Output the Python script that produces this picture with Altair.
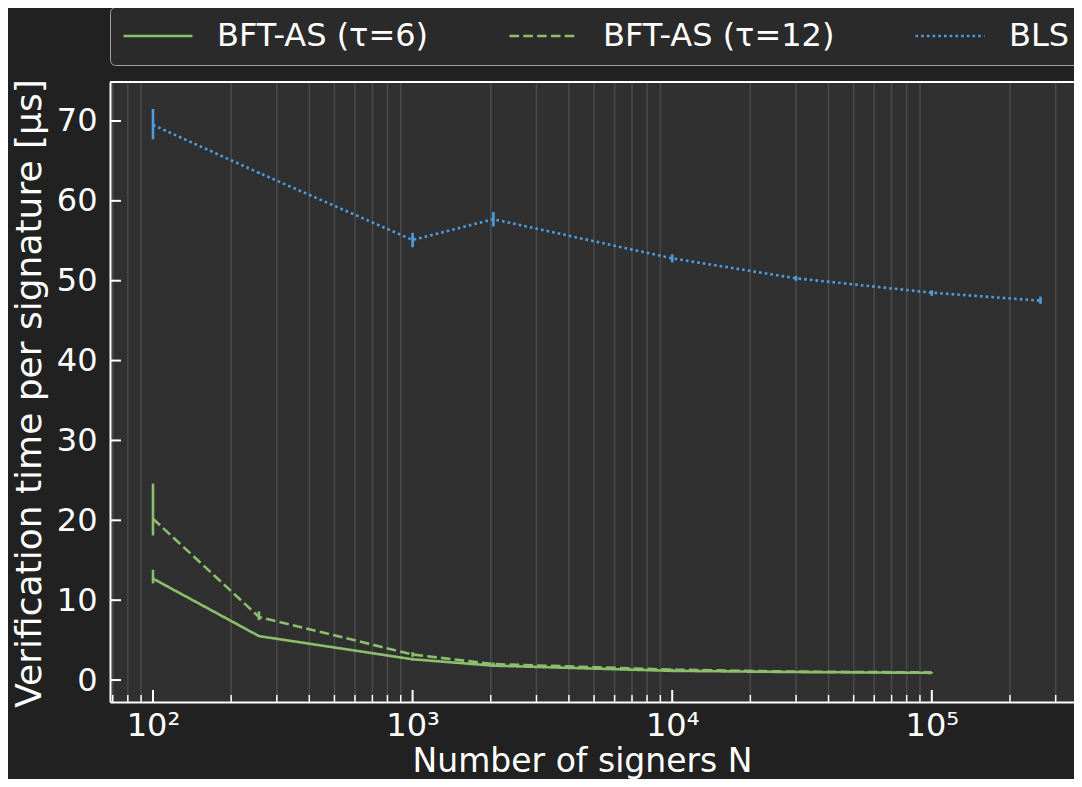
import altair as alt
import pandas as pd

# ---------------- data ----------------
series_names = ["BFT-AS (τ=6)", "BFT-AS (τ=12)", "BLS"]

n_bft = [100, 256, 1000, 2048, 10000, 30000, 100000]
tau6_mean = [12.7, 5.5, 2.6, 1.8, 1.15, 1.0, 0.9]
tau6_lo = [12.1, 5.4, 2.45, 1.7, 1.1, 0.95, 0.85]
tau6_hi = [13.8, 5.6, 2.75, 1.9, 1.2, 1.05, 0.95]

tau12_mean = [20.2, 7.9, 3.2, 2.0, 1.3, 1.05, 0.95]
tau12_lo = [18.1, 7.5, 2.9, 1.8, 1.2, 1.0, 0.9]
tau12_hi = [24.6, 8.6, 3.5, 2.2, 1.4, 1.1, 1.0]

n_bls = [100, 256, 1000, 2048, 10000, 30000, 100000, 262144]
bls_mean = [69.5, 63.5, 55.1, 57.7, 52.8, 50.3, 48.5, 47.5]
bls_lo = [67.7, 63.4, 54.2, 56.8, 52.3, 50.0, 48.1, 47.1]
bls_hi = [71.5, 63.6, 56.0, 58.6, 53.3, 50.6, 48.8, 48.0]

x_major = [100, 1000, 10000, 100000]
x_major_labels = ["10²", "10³", "10⁴", "10⁵"]
x_minor = [70, 80, 90,
           200, 300, 400, 500, 600, 700, 800, 900,
           2000, 3000, 4000, 5000, 6000, 7000, 8000, 9000,
           20000, 30000, 40000, 50000, 60000, 70000, 80000, 90000,
           200000, 300000]
y_major = [0, 10, 20, 30, 40, 50, 60, 70]

x_title = "Number of signers N"
y_title = "Verification time per signature [μs]"

# ---------------- tables ----------------
rows = []
for name, xs, m, lo, hi in [
    (series_names[0], n_bft, tau6_mean, tau6_lo, tau6_hi),
    (series_names[1], n_bft, tau12_mean, tau12_lo, tau12_hi),
    (series_names[2], n_bls, bls_mean, bls_lo, bls_hi),
]:
    for x, a, b, c in zip(xs, m, lo, hi):
        rows.append({"series": name, "N": x, "mean": a, "lo": b, "hi": c})
df = pd.DataFrame(rows)

major_df = pd.DataFrame({"v": x_major})
minor_df = pd.DataFrame({"v": x_minor})
ytick_df = pd.DataFrame({"v": y_major})

# ---------------- style ----------------
FONT = "DejaVu Sans"
GREEN = "#8cbf6c"
BLUE = "#4d9de0"
W, H = 964, 620
FS = 32
XTFS = 33
YTFS = 36
LW = 2.6

xscale = alt.Scale(type="log", domain=[68.3, 352900], nice=False)
yscale = alt.Scale(domain=[-2.75, 74.88], nice=False, zero=False)

label_expr = " : ".join(
    [f"datum.value == {v} ? '{t}'" for v, t in zip(x_major[:-1], x_major_labels[:-1])]
) + f" : '{x_major_labels[-1]}'"

legend_kw = dict(
    orient="none", legendX=0, legendY=-75, direction="horizontal", columns=3,
    title=None, symbolType="stroke", symbolSize=4761, symbolStrokeWidth=2.6,
    labelFont=FONT, labelFontSize=FS, labelColor="white", labelOffset=23,
    labelLimit=600, columnPadding=79, padding=12, clipHeight=34,
    fillColor="#2a2a2a", strokeColor="#a0a0a0", cornerRadius=5,
)

cscale = alt.Scale(domain=series_names, range=[GREEN, GREEN, BLUE])
dscale = alt.Scale(domain=series_names, range=[[1, 0], [9.6, 4.2], [2.6, 3.1]])

x_axis = alt.Axis(
    values=x_major, labelExpr=label_expr, labelFont=FONT, labelFontSize=FS,
    labelColor="white", labelBaseline="alphabetic", labelPadding=33,
    labelFlush=False, labelOverlap=False, ticks=False, tickSize=0, grid=False,
    domainColor="white", domainWidth=2, title=x_title, titleFont=FONT,
    titleFontSize=XTFS, titleFontWeight="normal", titleColor="white",
    titleX=472, titleY=69, titleBaseline="alphabetic", titleAlign="center",
)
y_axis = alt.Axis(
    values=y_major, labelFont=FONT, labelFontSize=FS, labelColor="white",
    labelPadding=13, ticks=False, tickSize=0, grid=False, domainColor="white",
    domainWidth=2, title=y_title, titleFont=FONT, titleFontSize=YTFS,
    titleFontWeight="normal", titleColor="white", titleX=-70, titleY=311,
    titleAngle=270, titleBaseline="alphabetic", titleAlign="center",
)

grid = alt.Chart(minor_df).mark_rule(color="#4a4a4a", strokeWidth=1.5).encode(
    x=alt.X("v:Q", scale=xscale, axis=x_axis),
    y=alt.value(0), y2=alt.value(H),
)

errs = alt.Chart(df).mark_rule(strokeWidth=2.6).encode(
    x=alt.X("N:Q", scale=xscale, axis=x_axis),
    y=alt.Y("lo:Q", scale=yscale, axis=y_axis),
    y2="hi:Q",
    color=alt.Color("series:N", scale=cscale, legend=alt.Legend(**legend_kw)),
)

lines = alt.Chart(df).mark_line(strokeWidth=LW).encode(
    x=alt.X("N:Q", scale=xscale, axis=x_axis),
    y=alt.Y("mean:Q", scale=yscale, axis=y_axis),
    color=alt.Color("series:N", scale=cscale, legend=alt.Legend(**legend_kw)),
    strokeDash=alt.StrokeDash("series:N", scale=dscale, legend=alt.Legend(**legend_kw)),
)

xmaj_ticks = alt.Chart(major_df).mark_rule(color="white", strokeWidth=2).encode(
    x=alt.X("v:Q", scale=xscale, axis=x_axis),
    y=alt.value(H), y2=alt.value(H - 12),
)
xmin_ticks = alt.Chart(minor_df).mark_rule(color="white", strokeWidth=1.5).encode(
    x=alt.X("v:Q", scale=xscale, axis=x_axis),
    y=alt.value(H), y2=alt.value(H - 7),
)
y_ticks = alt.Chart(ytick_df).mark_rule(color="white", strokeWidth=2).encode(
    y=alt.Y("v:Q", scale=yscale, axis=y_axis),
    x=alt.value(0), x2=alt.value(11),
)
top_spine = alt.Chart(major_df.head(1)).mark_rule(color="white", strokeWidth=2).encode(
    x=alt.value(0), x2=alt.value(W), y=alt.value(0),
)

chart = alt.layer(
    grid, errs, lines, xmaj_ticks, xmin_ticks, y_ticks, top_spine
).properties(
    width=W, height=H,
    padding={"left": 102, "top": 74, "right": 0, "bottom": 77},
    autosize=alt.AutoSizeParams(type="none"),
).configure(
    background="#212121", font=FONT,
).configure_view(
    fill="#303030", strokeWidth=0,
)

chart.save("out.html", embed_options={"renderer": "svg", "actions": False})
